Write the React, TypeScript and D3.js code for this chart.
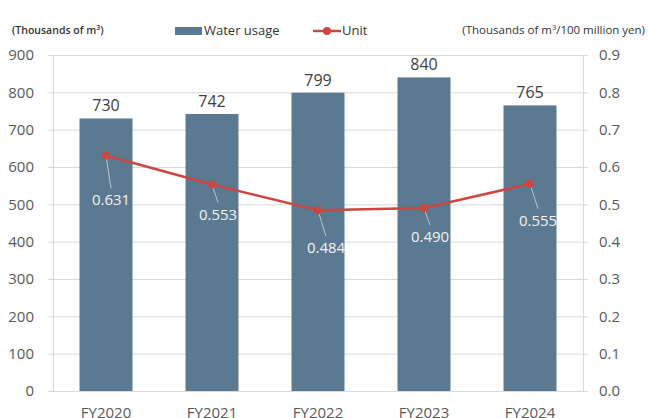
import React, { useEffect, useRef } from 'react';
import * as d3 from 'd3';

// data
const years = ['FY2020', 'FY2021', 'FY2022', 'FY2023', 'FY2024'];
const waterUsage = [730, 742, 799, 840, 765];
const unitValues = [0.631, 0.553, 0.484, 0.49, 0.555];
const leftTicks = [0, 100, 200, 300, 400, 500, 600, 700, 800, 900];
const rightTicks = [0, 0.1, 0.2, 0.3, 0.4, 0.5, 0.6, 0.7, 0.8, 0.9];

// where each unit label sits relative to its point (dx, baseline dy)
const unitLabelOffsets: [number, number][] = [
  [5, 50],
  [6, 35],
  [8, 43],
  [6, 34],
  [8, 42]
];

const BAR_COLOR = '#5b7a91';
const LINE_COLOR = '#cc4741';
const TEXT_COLOR = '#595959';
const GRID_COLOR = '#d9d9d9';
const FONT = '"Open Sans", sans-serif';

export default function App(): JSX.Element {
  const svgRef = useRef<SVGSVGElement>(null);

  useEffect(() => {
    const svgEle = svgRef.current;
    if (svgEle == null) {
      return;
    }
    const svg = d3.select(svgEle);
    svg.selectAll('*').remove();

    const margin = { top: 55, right: 65, bottom: 27, left: 53 };
    const width = 648;
    const height = 418;

    const x = d3
      .scaleBand()
      .domain(years)
      .range([margin.left, width - margin.right])
      .paddingInner(0.5)
      .paddingOuter(0.25);
    const y = d3.scaleLinear().domain([0, 900]).range([height - margin.bottom, margin.top]);
    const y2 = d3.scaleLinear().domain([0, 0.9]).range([height - margin.bottom, margin.top]);

    const x0 = margin.left;
    const x1 = width - margin.right;

    // grid lines
    svg
      .append('g')
      .selectAll('line')
      .data(leftTicks)
      .enter()
      .append('line')
      .attr('x1', x0 - 5)
      .attr('x2', x1 + 5)
      .attr('y1', (d) => y(d) + 0.5)
      .attr('y2', (d) => y(d) + 0.5)
      .attr('stroke', GRID_COLOR)
      .attr('stroke-width', 1);

    // axis lines
    [x0, x1].forEach((xx) => {
      svg
        .append('line')
        .attr('x1', xx + 0.5)
        .attr('x2', xx + 0.5)
        .attr('y1', y(900))
        .attr('y2', y(0))
        .attr('stroke', GRID_COLOR);
    });

    // left tick labels
    svg
      .append('g')
      .selectAll('text')
      .data(leftTicks)
      .enter()
      .append('text')
      .attr('x', 34)
      .attr('y', (d) => y(d))
      .attr('dy', '0.35em')
      .attr('text-anchor', 'end')
      .attr('font-size', 15)
      .attr('font-family', FONT)
      .attr('fill', TEXT_COLOR)
      .text((d) => d3.format('d')(d));

    // right tick labels
    svg
      .append('g')
      .selectAll('text')
      .data(rightTicks)
      .enter()
      .append('text')
      .attr('x', 599)
      .attr('y', (d) => y2(d))
      .attr('dy', '0.35em')
      .attr('text-anchor', 'start')
      .attr('font-size', 15)
      .attr('font-family', FONT)
      .attr('fill', TEXT_COLOR)
      .text((d) => d3.format('.1f')(d));

    // bars
    svg
      .append('g')
      .selectAll('rect')
      .data(waterUsage)
      .enter()
      .append('rect')
      .attr('x', (_d, i) => x(years[i]) || 0)
      .attr('y', (d) => y(d))
      .attr('width', x.bandwidth())
      .attr('height', (d) => y(0) - y(d))
      .attr('fill', BAR_COLOR);

    // bar value labels
    svg
      .append('g')
      .selectAll('text')
      .data(waterUsage)
      .enter()
      .append('text')
      .attr('x', (_d, i) => (x(years[i]) || 0) + x.bandwidth() / 2)
      .attr('y', (d) => y(d) - 7)
      .attr('text-anchor', 'middle')
      .attr('font-size', 16)
      .attr('font-family', FONT)
      .attr('fill', '#404040')
      .text((d) => d);

    // category labels (partly cut by the bottom edge, like the source)
    svg
      .append('g')
      .selectAll('text')
      .data(years)
      .enter()
      .append('text')
      .attr('x', (d) => (x(d) || 0) + x.bandwidth() / 2)
      .attr('y', 418)
      .attr('text-anchor', 'middle')
      .attr('font-size', 15)
      .attr('font-family', FONT)
      .attr('fill', TEXT_COLOR)
      .text((d) => d);

    // unit line
    const pts = unitValues.map((v, i) => [(x(years[i]) || 0) + x.bandwidth() / 2, y2(v)] as [number, number]);
    const line = d3.line<[number, number]>().x((d) => d[0]).y((d) => d[1]);

    // leader lines
    svg
      .append('g')
      .selectAll('line')
      .data(pts)
      .enter()
      .append('line')
      .attr('x1', (d) => d[0])
      .attr('y1', (d) => d[1])
      .attr('x2', (d, i) => d[0] + unitLabelOffsets[i][0])
      .attr('y2', (d, i) => d[1] + unitLabelOffsets[i][1] - 17)
      .attr('stroke', '#b8c4cc')
      .attr('stroke-width', 1);

    svg
      .append('path')
      .datum(pts)
      .attr('d', line)
      .attr('fill', 'none')
      .attr('stroke', LINE_COLOR)
      .attr('stroke-width', 2.5);

    svg
      .append('g')
      .selectAll('circle')
      .data(pts)
      .enter()
      .append('circle')
      .attr('cx', (d) => d[0])
      .attr('cy', (d) => d[1])
      .attr('r', 4)
      .attr('fill', LINE_COLOR);

    svg
      .append('g')
      .selectAll('text')
      .data(unitValues)
      .enter()
      .append('text')
      .attr('x', (_d, i) => pts[i][0] + unitLabelOffsets[i][0])
      .attr('y', (_d, i) => pts[i][1] + unitLabelOffsets[i][1])
      .attr('text-anchor', 'middle')
      .attr('font-size', 15)
      .attr('font-family', FONT)
      .attr('fill', '#f2f2f2')
      .text((d) => d3.format('.3f')(d));

    // titles
    const leftTitle = svg
      .append('text')
      .attr('x', 12)
      .attr('y', 34)
      .attr('font-size', 10.5)
      .attr('font-weight', 600)
      .attr('font-family', FONT)
      .attr('fill', '#333333');
    leftTitle.append('tspan').text('(Thousands of m');
    leftTitle.append('tspan').attr('font-size', 7).attr('dy', -4).text('3');
    leftTitle.append('tspan').attr('dy', 4).text(')');

    const rightTitle = svg
      .append('text')
      .attr('x', 645)
      .attr('y', 34)
      .attr('text-anchor', 'end')
      .attr('font-size', 11.5)
      .attr('font-family', FONT)
      .attr('fill', '#333333');
    rightTitle.append('tspan').text('(Thousands of m');
    rightTitle.append('tspan').attr('font-size', 7.5).attr('dy', -4).text('3');
    rightTitle.append('tspan').attr('dy', 4).text('/100 million yen)');

    // legend
    const legend = svg.append('g');
    legend
      .append('rect')
      .attr('x', 175)
      .attr('y', 27)
      .attr('width', 27)
      .attr('height', 8)
      .attr('fill', BAR_COLOR);
    legend
      .append('text')
      .attr('x', 204)
      .attr('y', 35)
      .attr('font-size', 13)
      .attr('font-family', FONT)
      .attr('fill', '#333333')
      .text('Water usage');
    legend
      .append('line')
      .attr('x1', 313)
      .attr('x2', 341)
      .attr('y1', 31)
      .attr('y2', 31)
      .attr('stroke', LINE_COLOR)
      .attr('stroke-width', 2.5);
    legend
      .append('circle')
      .attr('cx', 327)
      .attr('cy', 31)
      .attr('r', 4)
      .attr('fill', LINE_COLOR);
    legend
      .append('text')
      .attr('x', 342)
      .attr('y', 35)
      .attr('font-size', 13)
      .attr('font-family', FONT)
      .attr('fill', '#333333')
      .text('Unit');
  });

  return (
    <svg
      ref={svgRef}
      width={648}
      height={418}
      style={{ position: 'absolute', left: 0, top: 0, background: 'white' }}
    />
  );
}
